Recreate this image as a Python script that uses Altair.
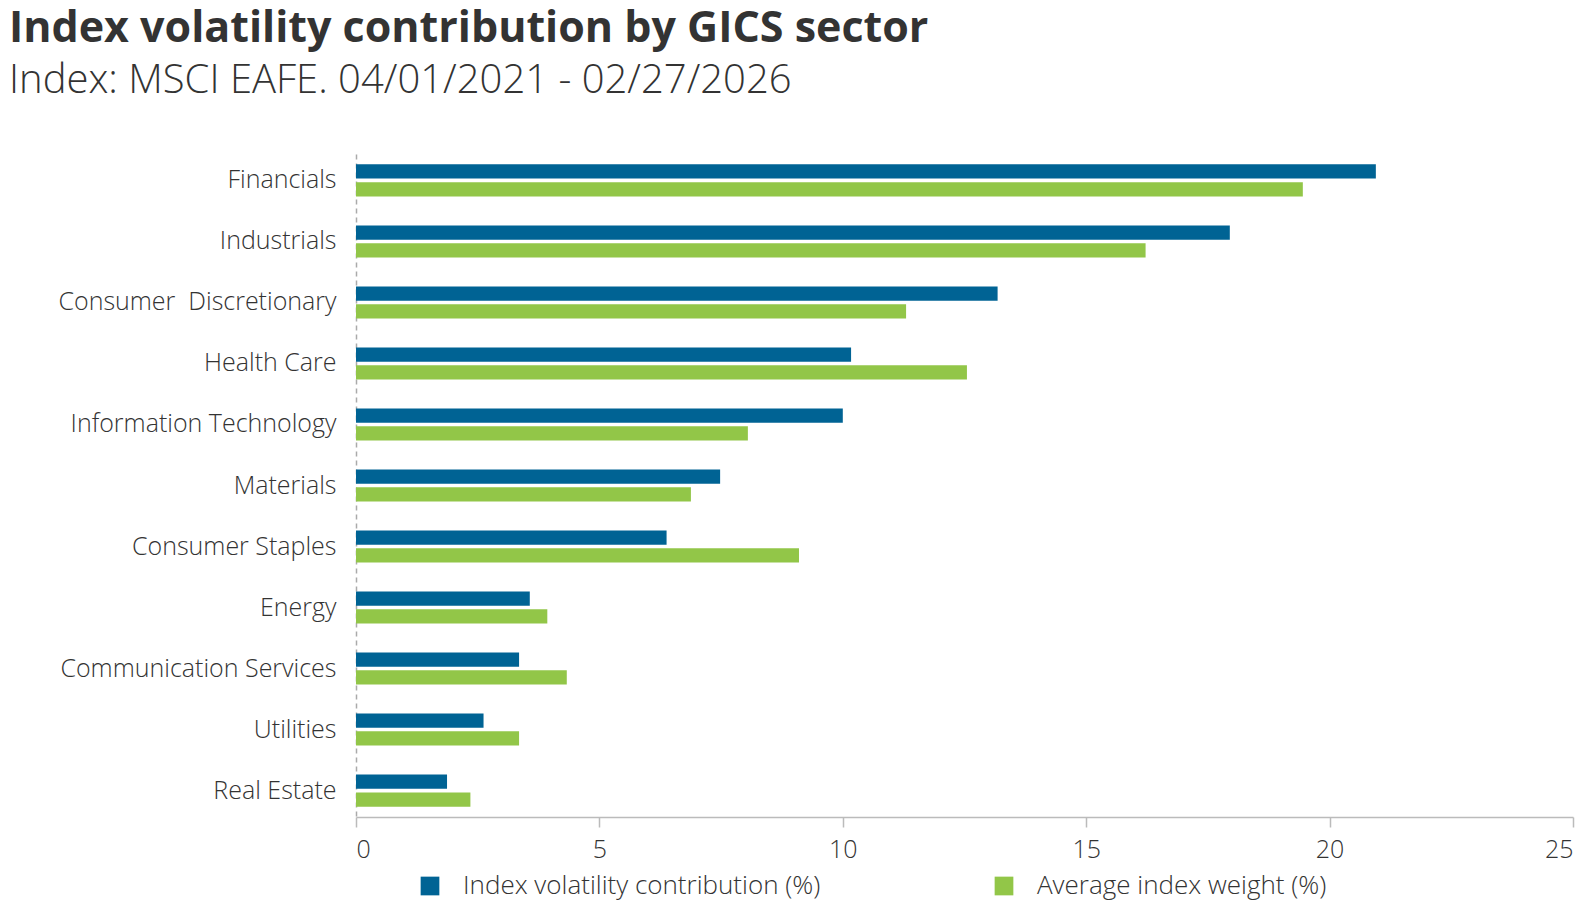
import altair as alt
import pandas as pd

sectors = ["Financials", "Industrials", "Consumer\u00a0\u00a0Discretionary", "Health Care",
           "Information Technology", "Materials", "Consumer Staples", "Energy",
           "Communication Services", "Utilities", "Real Estate"]
vol_contrib = [20.95, 17.95, 13.18, 10.17, 10.0, 7.48, 6.38, 3.57, 3.35, 2.62, 1.87]
avg_weight = [19.45, 16.22, 11.30, 12.55, 8.05, 6.88, 9.10, 3.93, 4.33, 3.35, 2.35]
series_names = ["Index volatility contribution (%)", "Average index weight (%)"]
series_colors = ["#006394", "#92C648"]
x_ticks = [0, 5, 10, 15, 20, 25]

rows = []
for s, v, w in zip(sectors, vol_contrib, avg_weight):
    rows.append({"sector": s, "series": series_names[0], "value": v})
    rows.append({"sector": s, "series": series_names[1], "value": w})
df = pd.DataFrame(rows)

FONT = "Open Sans"
TXT = "#333333"
W = 1217
H = 663

chart = alt.Chart(df).mark_bar().encode(
    y=alt.Y("sector:N", sort=sectors,
            scale=alt.Scale(paddingInner=0.475, paddingOuter=0.17),
            axis=alt.Axis(title=None, ticks=False, domainDash=[5, 4], domainColor="#aaaaaa",
                          domainWidth=1.5, labelFontSize=25, labelColor=TXT, labelPadding=20,
                          labelFont=FONT, labelFontWeight=300, labelLimit=0)),
    yOffset=alt.YOffset("series:N", sort=series_names,
                        scale=alt.Scale(paddingInner=0.2)),
    x=alt.X("value:Q", scale=alt.Scale(domain=[0, 25], nice=False),
            axis=alt.Axis(title=None, values=x_ticks, grid=False, tickSize=10,
                          tickColor="#bbbbbb", domainColor="#bbbbbb", tickWidth=1.5,
                          domainWidth=1.5, labelFontSize=25, labelColor=TXT, labelFont=FONT,
                          labelFontWeight=300, labelPadding=10)),
    color=alt.Color("series:N", sort=series_names,
                    scale=alt.Scale(domain=series_names, range=series_colors),
                    legend=alt.Legend(title=None, orient="none", direction="horizontal",
                                      legendX=61, legendY=H + 56,
                                      symbolType="square", symbolSize=350, symbolStrokeWidth=0,
                                      labelFontSize=26, labelColor=TXT, labelFont=FONT,
                                      labelFontWeight=300, labelLimit=0,
                                      columnPadding=170, labelOffset=20)),
).properties(
    width=W,
    height=H,
    title=alt.TitleParams(
        text="Index volatility contribution by GICS sector",
        subtitle="Index: MSCI EAFE. 04/01/2021 - 02/27/2026",
        anchor="start", frame="bounds", font=FONT, subtitleFont=FONT, dx=-49,
        fontSize=43, fontWeight="bold", color=TXT,
        subtitleFontSize=40, subtitleFontWeight=300, subtitleColor=TXT,
        subtitlePadding=10, offset=53),
    padding={"left": 0, "top": 0, "right": 10, "bottom": 30},
).configure_view(stroke=None)

chart.save("out.html", embed_options={"renderer": "svg", "actions": False})
